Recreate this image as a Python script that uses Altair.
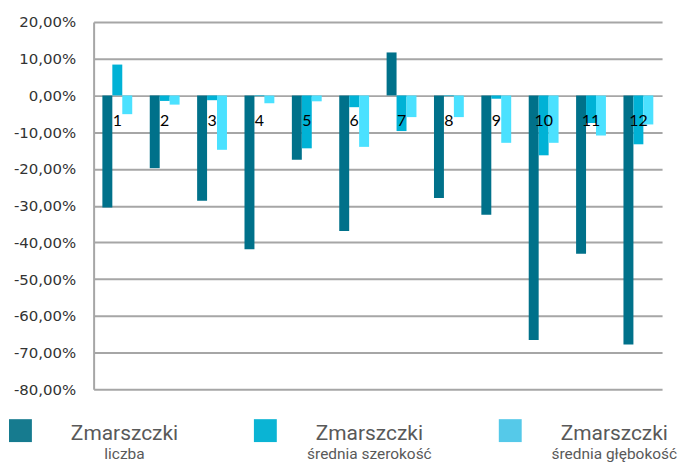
import altair as alt
import pandas as pd

categories = [str(i) for i in range(1, 13)]
series_main = ["Zmarszczki", "Zmarszczki", "Zmarszczki"]
series_sub = ["liczba", "średnia szerokość", "średnia głębokość"]
series_keys = [m + " " + s for m, s in zip(series_main, series_sub)]

liczba = [-30.5, -19.8, -28.7, -41.9, -17.5, -36.9, 11.7, -27.9, -32.5, -66.6, -43.1, -67.8]
szerokosc = [8.4, -1.5, -1.3, -0.2, -14.4, -3.2, -9.7, -0.2, -0.9, -16.3, -7.5, -13.3]
glebokosc = [-5.1, -2.5, -14.8, -2.1, -1.6, -14.0, -5.9, -5.9, -12.9, -12.9, -10.9, -7.9]

y_ticks = [0.2, 0.1, 0.0, -0.1, -0.2, -0.3, -0.4, -0.5, -0.6, -0.7, -0.8]
bar_colors = ["#00718A", "#00B2D6", "#4BE1FF"]
legend_colors = ["#167B8F", "#0AB4D4", "#55C9E9"]

rows = []
for key, vals in zip(series_keys, [liczba, szerokosc, glebokosc]):
    for c, v in zip(categories, vals):
        rows.append({"kat": c, "seria": key, "wartosc": v / 100.0})
df = pd.DataFrame(rows)

ymin, ymax = -0.8, 0.2
H = 369
W = 571
axis_offset = -H * (0 - ymin) / (ymax - ymin)

label_expr = "replace(replace(format(datum.value, '.2%'), '.', ','), '\u2212', '-')"

bars = alt.Chart(df).mark_bar().encode(
    x=alt.X("kat:O", sort=categories, title=None,
            scale=alt.Scale(paddingInner=0.37, paddingOuter=0.185),
            axis=alt.Axis(orient="bottom", offset=axis_offset, domain=False, ticks=False,
                          labelAngle=0, labelFont="Lato", labelFontSize=16, labelColor="#000000",
                          labelPadding=17, zindex=1, grid=False)),
    xOffset=alt.XOffset("seria:N", sort=series_keys, scale=alt.Scale(paddingInner=0, paddingOuter=0)),
    y=alt.Y("wartosc:Q", title=None,
            scale=alt.Scale(domain=[ymin, ymax], nice=False, zero=False),
            axis=alt.Axis(values=y_ticks, labelExpr=label_expr, grid=True, gridColor="#A6A6A6",
                          gridWidth=2, domain=True, domainColor="#A6A6A6", domainWidth=2,
                          ticks=False, labelFont="DejaVu Sans", labelFontSize=15,
                          labelColor="#333333", labelPadding=18)),
    color=alt.Color("seria:N", sort=series_keys,
                    scale=alt.Scale(domain=series_keys, range=bar_colors), legend=None),
).properties(width=W, height=H)

leg_df = pd.DataFrame({"seria": series_keys, "main": series_main, "sub": series_sub})
# legend items start left of the plot area (aligned with the page edge)
lx = alt.X("seria:N", sort=series_keys, axis=None,
           scale=alt.Scale(type="point", domain=series_keys, range=[-73.5, 418.5], padding=0))

swatches = alt.Chart(leg_df).mark_point(shape="square", filled=True, size=529, opacity=1).encode(
    x=lx, y=alt.value(31.5),
    color=alt.Color("seria:N", sort=series_keys,
                    scale=alt.Scale(domain=series_keys, range=legend_colors), legend=None),
)
main_txt = alt.Chart(leg_df).mark_text(dx=104.5, font="Roboto", fontSize=21, color="#595959",
                                       baseline="alphabetic", align="center").encode(
    x=lx, y=alt.value(41), text="main:N")
sub_txt = alt.Chart(leg_df).mark_text(dx=104.5, font="Roboto", fontSize=15.5, color="#595959",
                                      baseline="alphabetic", align="center").encode(
    x=lx, y=alt.value(60.5), text="sub:N")

legend = alt.layer(swatches, main_txt, sub_txt).properties(width=W, height=60)

chart = alt.vconcat(bars, legend, spacing=2).resolve_scale(
    color="independent", x="independent"
).properties(
    padding={"left": 1, "top": 6, "right": 0, "bottom": 0},
    background="#FFFFFF",
).configure_view(stroke=None)

chart.save("out.html", embed_options={"renderer": "svg", "actions": False})
